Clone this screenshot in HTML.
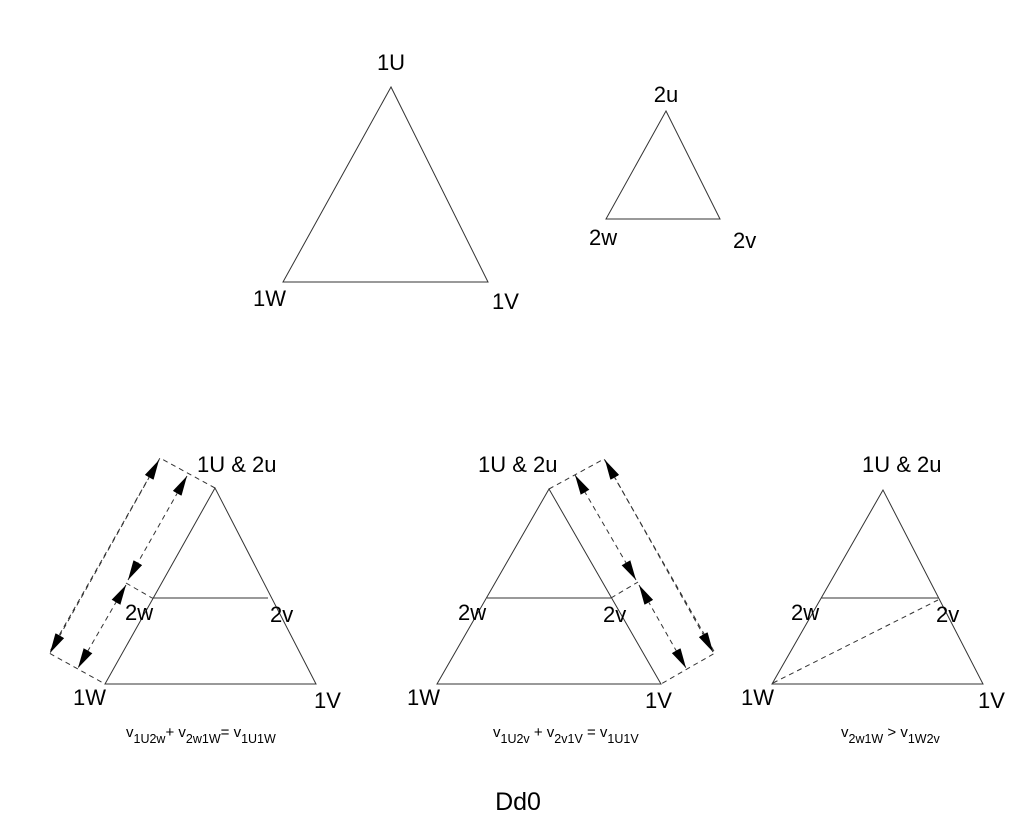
<!DOCTYPE html>
<html><head><style>
html,body{margin:0;padding:0;background:#fff;}
svg{display:block;}
text{font-family:"Liberation Sans",Arial,sans-serif;fill:#000;}
.l{font-size:22px;}
.f{font-size:15px;}
.s{font-size:12.5px;}
</style></head><body>
<svg width="1024" height="819" viewBox="0 0 1024 819" xmlns="http://www.w3.org/2000/svg">
<defs>
<marker id="a" viewBox="0 0 20 10" refX="20" refY="5" markerWidth="20" markerHeight="10" markerUnits="userSpaceOnUse" orient="auto-start-reverse">
<path d="M0,0 L20,5 L0,10 Z" fill="#000"/>
</marker>
</defs>
<g fill="none" stroke="#333" stroke-width="1">
<polygon points="391,87 283,282 488,282"/>
<polygon points="666,111 606,219 720,219"/>
<polygon points="215,488 105,684 316,684"/>
<line x1="152" y1="598" x2="268" y2="598"/>
<polygon points="549,489 437,684 661,684"/>
<line x1="487" y1="598" x2="611" y2="598"/>
<polygon points="883,490 772,684 983,684"/>
<line x1="821" y1="598" x2="939" y2="598"/>
</g>
<g fill="none" stroke="#333" stroke-width="1" stroke-dasharray="5,4">
<polyline points="215,488 160,458 49,653 105,684"/>
<line x1="126" y1="583" x2="152" y2="598"/>
<polyline points="549,489 604,459 715,653 661,684"/>
<line x1="611" y1="598" x2="638" y2="582"/>
<line x1="773" y1="683" x2="938" y2="600"/>
</g>
<g fill="none" stroke="#333" stroke-width="1" stroke-dasharray="5,4" marker-start="url(#a)" marker-end="url(#a)">
<line x1="159" y1="460" x2="50" y2="653"/>
<line x1="187" y1="476" x2="128" y2="580"/>
<line x1="126" y1="585" x2="78" y2="668"/>
<line x1="605" y1="460" x2="713" y2="652"/>
<line x1="575" y1="475" x2="636" y2="580"/>
<line x1="639" y1="585" x2="686" y2="668"/>
</g>
<text class="l" x="391" y="70" text-anchor="middle">1U</text>
<text class="l" x="666" y="102" text-anchor="middle">2u</text>
<text class="l" x="589" y="245">2w</text>
<text class="l" x="733" y="248">2v</text>
<text class="l" x="253" y="306">1W</text>
<text class="l" x="492" y="309">1V</text>

<text class="l" x="197" y="472">1U &amp; 2u</text>
<text class="l" x="125" y="620">2w</text>
<text class="l" x="270" y="622">2v</text>
<text class="l" x="73" y="705">1W</text>
<text class="l" x="314" y="708">1V</text>

<text class="l" x="478" y="472">1U &amp; 2u</text>
<text class="l" x="458" y="620">2w</text>
<text class="l" x="603" y="622">2v</text>
<text class="l" x="407" y="705">1W</text>
<text class="l" x="645" y="708">1V</text>

<text class="l" x="862" y="472">1U &amp; 2u</text>
<text class="l" x="791" y="620">2w</text>
<text class="l" x="936" y="622">2v</text>
<text class="l" x="741" y="705">1W</text>
<text class="l" x="978" y="708">1V</text>

<text class="f" x="126" y="737">v<tspan class="s" dy="6">1U2w</tspan><tspan dy="-6">+ v</tspan><tspan class="s" dy="6">2w1W</tspan><tspan dy="-6">= v</tspan><tspan class="s" dy="6">1U1W</tspan></text>
<text class="f" x="493" y="737">v<tspan class="s" dy="6">1U2v</tspan><tspan dy="-6"> + v</tspan><tspan class="s" dy="6">2v1V</tspan><tspan dy="-6"> = v</tspan><tspan class="s" dy="6">1U1V</tspan></text>
<text class="f" x="841" y="737">v<tspan class="s" dy="6">2w1W</tspan><tspan dy="-6"> &gt; v</tspan><tspan class="s" dy="6">1W2v</tspan></text>

<text x="518" y="810" text-anchor="middle" style="font-size:25px">Dd0</text>
</svg>
</body></html>
